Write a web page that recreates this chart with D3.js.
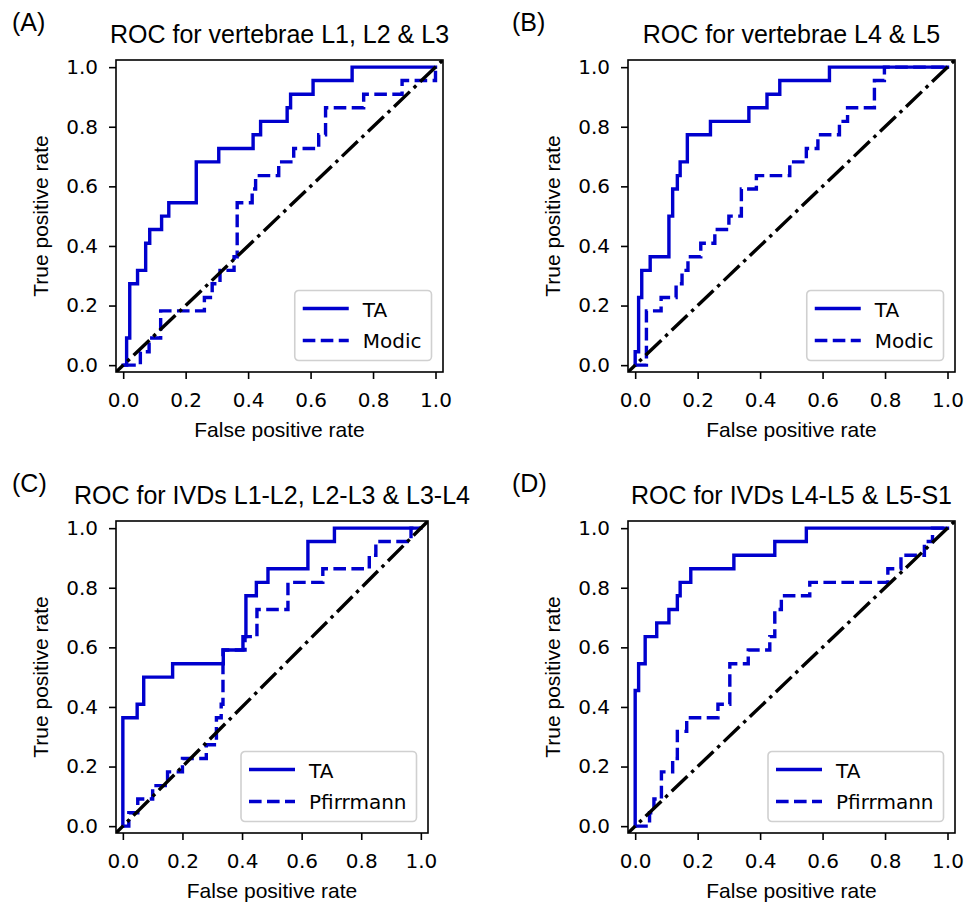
<!DOCTYPE html>
<html>
<head>
<meta charset="utf-8">
<script src="https://cdn.jsdelivr.net/npm/d3@7"></script>
<style>
  body { margin: 0; background: #fff; }
  svg { display: block; }
</style>
</head>
<body>
<svg id="chart" width="966" height="902"></svg>
<script>
//////////////////     DATA
const panelLetters = ["(A)", "(B)", "(C)", "(D)"];
const panelTitles = [
  "ROC for vertebrae L1, L2 & L3",
  "ROC for vertebrae L4 & L5",
  "ROC for IVDs L1-L2, L2-L3 & L3-L4",
  "ROC for IVDs L4-L5 & L5-S1"
];
const seriesNames = ["TA", "Modic", "Modic", "Pfirrmann", "Pfirrmann"];
const tickValues = [0, 0.2, 0.4, 0.6, 0.8, 1.0];

// corners of the ROC step curves, [false positive rate, true positive rate]
const rocA_TA = [[0,0],[0.011,0],[0.011,0.091],[0.021,0.091],[0.021,0.273],[0.046,0.273],[0.046,0.318],[0.072,0.318],[0.072,0.409],[0.085,0.409],[0.085,0.455],[0.123,0.455],[0.123,0.5],[0.146,0.5],[0.146,0.545],[0.234,0.545],[0.234,0.682],[0.306,0.682],[0.306,0.727],[0.416,0.727],[0.416,0.773],[0.44,0.773],[0.44,0.818],[0.525,0.818],[0.525,0.864],[0.536,0.864],[0.536,0.909],[0.608,0.909],[0.608,0.955],[0.733,0.955],[0.733,1],[1,1]];
const rocA_Modic = [[0,0],[0.055,0],[0.055,0.045],[0.083,0.045],[0.083,0.091],[0.12,0.091],[0.12,0.182],[0.26,0.182],[0.26,0.227],[0.285,0.227],[0.285,0.273],[0.31,0.273],[0.31,0.318],[0.355,0.318],[0.355,0.364],[0.365,0.364],[0.365,0.545],[0.413,0.545],[0.413,0.591],[0.424,0.591],[0.424,0.636],[0.498,0.636],[0.498,0.682],[0.546,0.682],[0.546,0.727],[0.626,0.727],[0.626,0.773],[0.648,0.773],[0.648,0.864],[0.77,0.864],[0.77,0.909],[0.893,0.909],[0.893,0.955],[1,0.955],[1,1]];
const rocB_TA = [[0,0],[0,0.045],[0.011,0.045],[0.011,0.227],[0.021,0.227],[0.021,0.318],[0.048,0.318],[0.048,0.364],[0.108,0.364],[0.108,0.5],[0.12,0.5],[0.12,0.591],[0.135,0.591],[0.135,0.636],[0.144,0.636],[0.144,0.682],[0.167,0.682],[0.167,0.773],[0.241,0.773],[0.241,0.818],[0.364,0.818],[0.364,0.864],[0.422,0.864],[0.422,0.909],[0.463,0.909],[0.463,0.955],[0.622,0.955],[0.622,1],[1,1]];
const rocB_Modic = [[0,0],[0.036,0],[0.036,0.182],[0.083,0.182],[0.083,0.227],[0.131,0.227],[0.131,0.273],[0.15,0.273],[0.15,0.318],[0.169,0.318],[0.169,0.364],[0.21,0.364],[0.21,0.409],[0.255,0.409],[0.255,0.455],[0.3,0.455],[0.3,0.5],[0.34,0.5],[0.34,0.591],[0.388,0.591],[0.388,0.636],[0.495,0.636],[0.495,0.682],[0.548,0.682],[0.548,0.727],[0.585,0.727],[0.585,0.773],[0.654,0.773],[0.654,0.818],[0.68,0.818],[0.68,0.864],[0.766,0.864],[0.766,0.955],[0.798,0.955],[0.798,1],[1,1]];
const rocC_TA = [[0,0],[0,0.364],[0.048,0.364],[0.048,0.409],[0.07,0.409],[0.07,0.5],[0.167,0.5],[0.167,0.545],[0.337,0.545],[0.337,0.591],[0.403,0.591],[0.403,0.636],[0.413,0.636],[0.413,0.773],[0.448,0.773],[0.448,0.818],[0.487,0.818],[0.487,0.864],[0.621,0.864],[0.621,0.955],[0.71,0.955],[0.71,1],[1,1]];
const rocC_Pfirrmann = [[0,0],[0.02,0],[0.02,0.045],[0.05,0.045],[0.05,0.091],[0.1,0.091],[0.1,0.136],[0.15,0.136],[0.15,0.182],[0.2,0.182],[0.2,0.227],[0.28,0.227],[0.28,0.273],[0.314,0.273],[0.314,0.364],[0.33,0.364],[0.33,0.409],[0.336,0.409],[0.336,0.591],[0.41,0.591],[0.41,0.636],[0.45,0.636],[0.45,0.727],[0.554,0.727],[0.554,0.818],[0.671,0.818],[0.671,0.864],[0.827,0.864],[0.827,0.909],[0.849,0.909],[0.849,0.955],[0.967,0.955],[0.967,1],[1,1]];
const rocD_TA = [[0,0],[0,0.455],[0.011,0.455],[0.011,0.545],[0.032,0.545],[0.032,0.636],[0.069,0.636],[0.069,0.682],[0.108,0.682],[0.108,0.727],[0.135,0.727],[0.135,0.773],[0.144,0.773],[0.144,0.818],[0.178,0.818],[0.178,0.864],[0.316,0.864],[0.316,0.909],[0.447,0.909],[0.447,0.955],[0.548,0.955],[0.548,1],[1,1]];
const rocD_Pfirrmann = [[0,0],[0.046,0],[0.046,0.045],[0.06,0.045],[0.06,0.091],[0.084,0.091],[0.084,0.182],[0.12,0.182],[0.12,0.227],[0.135,0.227],[0.135,0.318],[0.165,0.318],[0.165,0.364],[0.265,0.364],[0.265,0.409],[0.303,0.409],[0.303,0.545],[0.362,0.545],[0.362,0.591],[0.431,0.591],[0.431,0.636],[0.447,0.636],[0.447,0.727],[0.468,0.727],[0.468,0.773],[0.559,0.773],[0.559,0.818],[0.809,0.818],[0.809,0.864],[0.851,0.864],[0.851,0.909],[0.926,0.909],[0.926,0.955],[0.952,0.955],[0.952,1],[1,1]];
const chanceLine = [[-0.05, -0.05], [1.05, 1.05]];
//////////////////////////////////////////////////

const blue = "#0000cd";
const lineWidth = 3.4;
const sansFont = "'Liberation Sans', Arial, Helvetica, sans-serif";
const tickFont = "'DejaVu Sans', sans-serif";
const domain = [-0.023, 1.024];

const svg = d3.select("#chart");

const panels = [
  { letter: panelLetters[0], title: panelTitles[0], ta: rocA_TA, ref: rocA_Modic, refName: seriesNames[1], left: 116, top: 60, width: 327, height: 312, letterX: 12 },
  { letter: panelLetters[1], title: panelTitles[1], ta: rocB_TA, ref: rocB_Modic, refName: seriesNames[2], left: 628, top: 60, width: 327, height: 312, letterX: 512 },
  { letter: panelLetters[2], title: panelTitles[2], ta: rocC_TA, ref: rocC_Pfirrmann, refName: seriesNames[3], left: 116, top: 521, width: 312, height: 312, letterX: 12 },
  { letter: panelLetters[3], title: panelTitles[3], ta: rocD_TA, ref: rocD_Pfirrmann, refName: seriesNames[4], left: 628, top: 521, width: 327, height: 312, letterX: 512 }
];

const rocPanel = (selection, props) => {
  const { letter, title, ta, ref, refName, left, top, width, height, letterX, idx } = props;

  const x = d3.scaleLinear().domain(domain).range([left, left + width]);
  const y = d3.scaleLinear().domain(domain).range([top + height, top]);

  const clipId = "clip" + idx;
  selection.append("clipPath").attr("id", clipId)
    .append("rect")
      .attr("x", left).attr("y", top)
      .attr("width", width).attr("height", height);

  // axes
  const xAxis = d3.axisBottom(x).tickValues(tickValues).tickFormat(d3.format(".1f"))
    .tickSize(7).tickPadding(14);
  const yAxis = d3.axisLeft(y).tickValues(tickValues).tickFormat(d3.format(".1f"))
    .tickSize(7).tickPadding(11);

  const xg = selection.append("g")
    .attr("transform", `translate(0,${top + height})`)
    .call(xAxis);
  const yg = selection.append("g")
    .attr("transform", `translate(${left},0)`)
    .call(yAxis);
  [xg, yg].forEach(g => {
    g.select(".domain").remove();
    g.selectAll(".tick line").attr("stroke", "#000").attr("stroke-width", 1.6);
    g.selectAll(".tick text")
      .attr("fill", "#000")
      .style("font-family", tickFont)
      .style("font-size", "20px");
  });

  const line = d3.line().x(d => x(d[0])).y(d => y(d[1]));
  const plotG = selection.append("g").attr("clip-path", `url(#${clipId})`);

  plotG.append("path")
    .datum(ta)
    .attr("d", line)
    .attr("fill", "none")
    .attr("stroke", blue)
    .attr("stroke-width", lineWidth)
    .attr("stroke-linejoin", "miter")
    .attr("stroke-linecap", "square");

  plotG.append("path")
    .datum(ref)
    .attr("d", line)
    .attr("fill", "none")
    .attr("stroke", blue)
    .attr("stroke-width", lineWidth)
    .attr("stroke-dasharray", "12.6,5.4");

  plotG.append("path")
    .datum(chanceLine)
    .attr("d", line)
    .attr("fill", "none")
    .attr("stroke", "#000")
    .attr("stroke-width", lineWidth)
    .attr("stroke-dasharray", "21.8,5.4,3.4,5.4");

  // frame
  selection.append("rect")
    .attr("x", left).attr("y", top)
    .attr("width", width).attr("height", height)
    .attr("fill", "none")
    .attr("stroke", "#000")
    .attr("stroke-width", 1.6);

  // texts
  selection.append("text")
    .attr("x", letterX).attr("y", top - 29.5)
    .style("font-family", sansFont).style("font-size", "25px")
    .text(letter);

  selection.append("text")
    .attr("x", left + width / 2).attr("y", top - 17)
    .attr("text-anchor", "middle")
    .style("font-family", sansFont).style("font-size", "25px")
    .text(title);

  selection.append("text")
    .attr("x", left + width / 2).attr("y", top + height + 65)
    .attr("text-anchor", "middle")
    .style("font-family", sansFont).style("font-size", "21px")
    .text("False positive rate");

  selection.append("text")
    .attr("transform", `translate(${left - 68},${top + height / 2}) rotate(-90)`)
    .attr("text-anchor", "middle")
    .style("font-family", sansFont).style("font-size", "21px")
    .text("True positive rate");

  // legend
  const legendG = selection.append("g");
  const frame = legendG.append("rect");
  const items = [
    { name: seriesNames[0], dash: null },
    { name: refName, dash: "12.6,5.4" }
  ];
  const rows = legendG.selectAll("g.item").data(items).enter().append("g").attr("class", "item");
  rows.append("line")
    .attr("x1", 8).attr("x2", 54)
    .attr("y1", (d, i) => 18 + i * 32).attr("y2", (d, i) => 18 + i * 32)
    .attr("stroke", blue)
    .attr("stroke-width", lineWidth)
    .attr("stroke-dasharray", d => d.dash);
  rows.append("text")
    .attr("x", 68)
    .attr("y", (d, i) => 26 + i * 31)
    .style("font-family", tickFont).style("font-size", "20px")
    .attr("fill", "#000")
    .text(d => d.name);
  let textW = 0;
  rows.selectAll("text").each(function () {
    textW = Math.max(textW, this.getComputedTextLength());
  });
  const legW = 68 + textW + 10;
  const legH = 70;
  frame
    .attr("width", legW).attr("height", legH)
    .attr("rx", 4).attr("ry", 4)
    .attr("fill", "#fff").attr("fill-opacity", 0.8)
    .attr("stroke", "#d0d0d0").attr("stroke-width", 1.6);
  legendG.attr("transform", `translate(${left + width - 11.5 - legW},${top + height - 11.5 - legH})`);
};

panels.forEach((p, i) => {
  svg.append("g").call(rocPanel, Object.assign({ idx: i }, p));
});
</script>
</body>
</html>
